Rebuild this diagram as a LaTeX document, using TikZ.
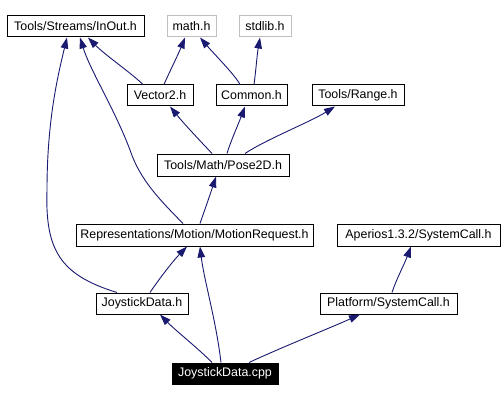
\documentclass[tikz,border=0pt]{standalone}
\usepackage{fontspec}
\setmainfont{Liberation Sans}
\usetikzlibrary{arrows.meta,calc}
\definecolor{edgeblue}{HTML}{191970}
\definecolor{extgrey}{HTML}{BFBFBF}
\begin{document}
\begin{tikzpicture}[x=1pt,y=-1pt,
  filebox/.style={draw=black,line width=1pt,inner sep=0pt,minimum height=21pt,
    font=\fontsize{12.4}{14}\selectfont},
  extbox/.style={filebox,draw=extgrey},
  rootbox/.style={filebox,fill=black,text=white},
  dep/.style={draw=edgeblue,line width=0.9pt,
    -{Triangle[length=11pt,width=7.5pt,fill=edgeblue]}}]
\useasboundingbox (0,0) rectangle (503,401);
% nodes
\node[filebox,minimum width=137pt] (inout) at (75.5,26.5) {Tools/Streams/InOut.h};
\node[extbox,minimum width=49pt] (math) at (191.5,26.5) {math.h};
\node[extbox,minimum width=52pt] (stdlib) at (265,26.5) {stdlib.h};
\node[filebox,minimum width=66pt] (vec) at (160,95.5) {Vector2.h};
\node[filebox,minimum width=71pt] (common) at (251.5,95.5) {Common.h};
\node[filebox,minimum width=92pt] (range) at (358,95.5) {Tools/Range.h};
\node[filebox,minimum width=132pt,minimum height=22pt] (pose) at (223,165) {Tools/Math/Pose2D.h};
\node[filebox,minimum width=237pt,minimum height=22pt] (motion) at (194.5,235) {Representations/Motion/MotionRequest.h};
\node[filebox,minimum width=163pt,minimum height=22pt] (aperios) at (418.5,235) {Aperios1.3.2/SystemCall.h};
\node[filebox,minimum width=92pt] (jdh) at (142,303.5) {JoystickData.h};
\node[filebox,minimum width=137pt] (plat) at (388.5,303.5) {Platform/SystemCall.h};
\node[rootbox,minimum width=106pt] (cpp) at (225,373.5) {JoystickData.cpp};
% edges
\draw[dep] ($(cpp.north)+(-13,0)$) .. controls (200,350) and (175,330) .. ($(jdh.south)+(18,0)$);
\draw[dep] ($(cpp.north)+(-4,0)$) .. controls (216,320) and (204,280) .. ($(motion.south)+(5.5,0)$);
\draw[dep] ($(cpp.north)+(24,0)$) .. controls (280,348) and (330,328) .. ($(plat.south)+(-28.5,0)$);
\draw[dep] ($(jdh.north)+(8,0)$) .. controls (157,282) and (172,262) .. ($(motion.south)+(-7.5,0)$);
\draw[dep] ($(jdh.north)+(-25,0)$) .. controls (60,275) and (45,250) .. (47,190)
  .. controls (47,120) and (58,75) .. ($(inout.south)+(-8.5,0)$);
\draw[dep] ($(motion.north)+(-11.5,0)$) .. controls (160,200) and (140,180) .. (130,150)
  .. controls (115,110) and (90,70) .. ($(inout.south)+(4.5,0)$);
\draw[dep] ($(motion.north)+(5.5,0)$) .. controls (204,212) and (210,195) .. ($(pose.south)+(-7,0)$);
\draw[dep] ($(plat.north)+(3.5,0)$) .. controls (396,280) and (404,265) .. ($(aperios.south)+(-7.5,0)$);
\draw[dep] ($(pose.north)+(-11,0)$) .. controls (205,146) and (185,125) .. ($(vec.south)+(10,0)$);
\draw[dep] ($(pose.north)+(4,0)$) .. controls (230,143) and (238,125) .. ($(common.south)+(-6.5,0)$);
\draw[dep] ($(pose.north)+(22,0)$) .. controls (265,140) and (310,122) .. ($(range.south)+(-23,0)$);
\draw[dep] ($(vec.north)+(-17,0)$) .. controls (130,72) and (105,55) .. ($(inout.south)+(12.5,0)$);
\draw[dep] ($(vec.north)+(4,0)$) .. controls (168,75) and (178,55) .. ($(math.south)+(-6.5,0)$);
\draw[dep] ($(common.north)+(-11.5,0)$) .. controls (235,75) and (215,55) .. ($(math.south)+(8.5,0)$);
\draw[dep] ($(common.north)+(2.5,0)$) .. controls (256,70) and (257,55) .. ($(stdlib.south)+(-5,0)$);
\end{tikzpicture}
\end{document}
